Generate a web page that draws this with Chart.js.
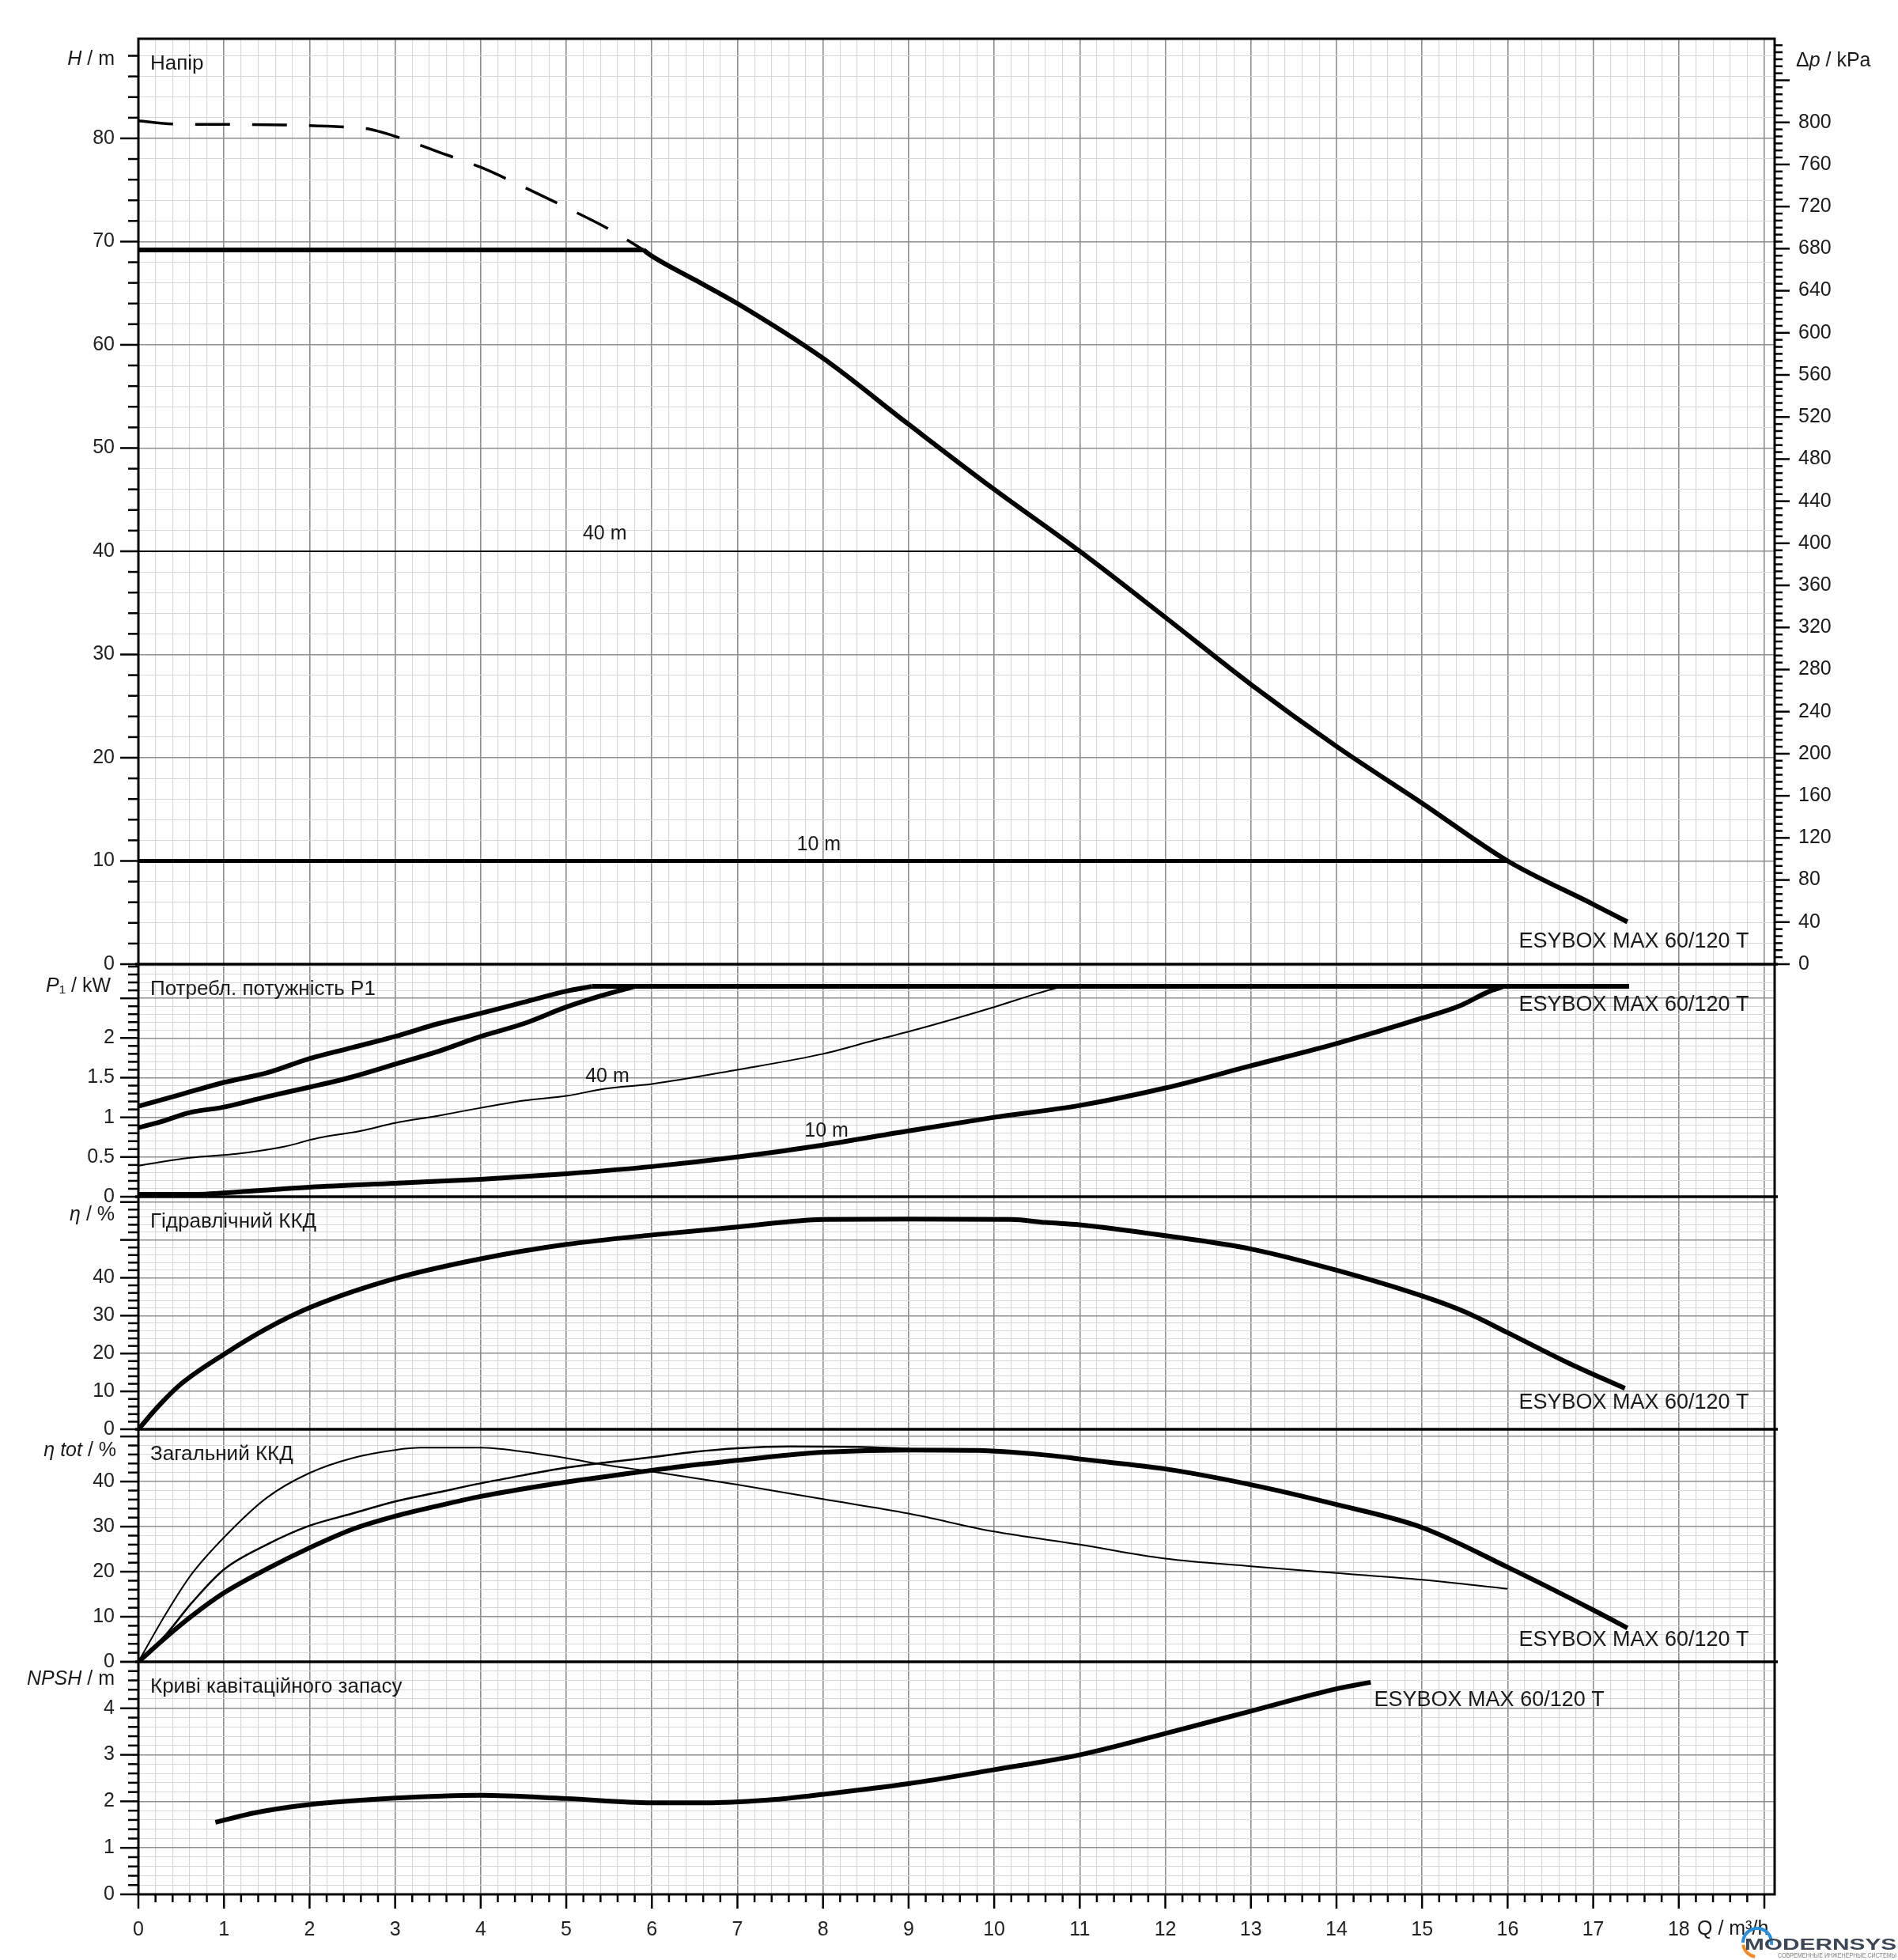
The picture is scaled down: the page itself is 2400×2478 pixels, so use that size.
<!DOCTYPE html>
<html>
<head>
<meta charset="utf-8">
<title>ESYBOX MAX 60/120 T</title>
<script src="https://cdn.jsdelivr.net/npm/chart.js@4.4.1/dist/chart.umd.min.js"></script>
<style>
  html, body { margin: 0; padding: 0; background: #fff; }
  #wrap { width: 2400px; height: 2478px; position: relative; }
</style>
</head>
<body>
<div id="wrap"><canvas id="pumpChart"></canvas></div>
<script>
const FONT = "'Liberation Sans', Arial, sans-serif";
const qMax = 19.12;
const kpaPerM = 9.81;

// tick labels
const qLabels = [0, 1, 2, 3, 4, 5, 6, 7, 8, 9, 10, 11, 12, 13, 14, 15, 16, 17, 18];
const hLabels = [0, 10, 20, 30, 40, 50, 60, 70, 80];
const kpaLabels = [0, 40, 80, 120, 160, 200, 240, 280, 320, 360, 400, 440, 480, 520, 560, 600, 640, 680, 720, 760, 800];
const pLabels = [0, 0.5, 1, 1.5, 2];
const etaLabels = [0, 10, 20, 30, 40];
const etaTotLabels = [0, 10, 20, 30, 40];
const npshLabels = [0, 1, 2, 3, 4];

// Напір, m
const headQ = [5.9, 6, 6.5, 7, 8, 9, 10, 11, 12, 13, 14, 15, 16, 17, 17.4];
const headH = [69.2, 68.6, 66.3, 64.0, 58.7, 52.3, 46.0, 40.0, 33.6, 27.1, 21.1, 15.6, 10.0, 5.8, 4.1];
const headCapQ = [0, 5.9];
const headCapH = [69.2, 69.2];
const headFullQ = [0, 0.4, 1, 1.7, 2.4, 2.7, 3.0, 3.5, 4.0, 4.5, 5.0, 5.5, 5.9];
const headFullH = [81.7, 81.4, 81.35, 81.3, 81.1, 80.9, 80.2, 78.7, 77.2, 75.3, 73.3, 71.2, 69.2];
const set40Q = [0, 11];
const set40H = [40, 40];
const set10Q = [0, 16];
const set10H = [10, 10];

// Потребл. потужність P1, kW
const powerFullQ = [0, 0.5, 1, 1.5, 2, 2.5, 3, 3.5, 4, 4.5, 5, 5.3];
const powerFull = [1.14, 1.29, 1.44, 1.56, 1.74, 1.88, 2.02, 2.18, 2.31, 2.45, 2.59, 2.65];
const powerCapQ = [0, 0.25, 0.6, 1, 1.5, 2, 2.5, 3, 3.5, 4, 4.5, 5, 5.4, 5.8];
const powerCap = [0.87, 0.94, 1.06, 1.13, 1.26, 1.38, 1.51, 1.67, 1.83, 2.02, 2.18, 2.39, 2.53, 2.65];
const power40Q = [0, 0.6, 1.15, 1.7, 2.1, 2.6, 3, 3.5, 4, 4.5, 5, 5.45, 6, 7, 8, 8.6, 9, 10, 10.5, 10.8];
const power40 = [0.39, 0.49, 0.54, 0.63, 0.74, 0.83, 0.93, 1.02, 1.12, 1.21, 1.27, 1.36, 1.42, 1.60, 1.80, 1.97, 2.08, 2.39, 2.56, 2.65];
const power10Q = [0, 0.65, 1.3, 2, 3, 4, 5, 6, 7, 8, 9, 10, 11, 12, 13, 14, 15, 15.45, 15.77, 15.95];
const power10 = [0.03, 0.03, 0.07, 0.12, 0.17, 0.22, 0.29, 0.38, 0.50, 0.65, 0.83, 1.0, 1.15, 1.37, 1.65, 1.93, 2.25, 2.41, 2.58, 2.65];
const powerLimitQ = [5.3, 17.42];
const powerLimit = [2.65, 2.65];

// Гідравлічний ККД, %
const etaQ = [0, 0.25, 0.5, 1, 1.5, 2, 3, 4, 5, 6, 7, 8, 9, 10.2, 10.6, 11, 12, 13, 14, 15, 15.5, 16, 16.7, 17.37];
const eta = [0, 6.5, 12.0, 19.8, 26.6, 32.1, 39.8, 45.0, 48.8, 51.3, 53.4, 55.4, 55.5, 55.4, 54.6, 54.0, 51.1, 47.6, 42.0, 35.2, 31.0, 25.5, 17.6, 10.8];

// Загальний ККД, %
const etaTotQ = [0, 0.32, 0.62, 1, 1.5, 2, 2.5, 3, 3.5, 4, 4.5, 5, 5.5, 6, 6.5, 7, 7.6, 8, 9, 9.8, 10.7, 11, 12, 13, 14, 15, 16, 17, 17.4];
const etaTot = [0, 5.4, 10.1, 15.3, 20.6, 25.3, 29.4, 32.3, 34.6, 36.7, 38.4, 39.9, 41.2, 42.5, 43.7, 44.7, 45.9, 46.5, 47.0, 46.9, 45.7, 45.0, 42.8, 39.3, 34.9, 29.8, 21.0, 11.5, 7.5];
const etaTot10Q = [0, 0.32, 0.62, 1, 1.5, 2, 2.5, 3, 3.3, 4, 4.5, 5, 5.45, 6, 7, 8, 9, 10, 11, 12, 13, 14, 15, 16];
const etaTot10 = [0, 10.6, 19.4, 27.6, 36.4, 41.9, 45.2, 47.0, 47.5, 47.5, 46.6, 45.2, 43.7, 42.2, 39.3, 36.1, 32.9, 28.9, 26.0, 22.9, 21.2, 19.7, 18.2, 16.2];
const etaTot40Q = [0, 0.32, 0.62, 1, 1.5, 2, 2.5, 3, 3.5, 4, 4.5, 5, 5.5, 6, 6.5, 7, 7.6, 8.4, 9.0];
const etaTot40 = [0, 6.0, 13.0, 20.5, 26.0, 30.2, 32.9, 35.6, 37.6, 39.6, 41.4, 43.1, 44.3, 45.4, 46.6, 47.4, 47.8, 47.7, 47.3];

// Криві кавітаційного запасу, m
const npshQ = [0.9, 1.38, 2, 3, 4, 5, 6, 6.7, 7.44, 8, 9, 10, 11, 12, 13, 14, 14.4];
const npsh = [1.55, 1.76, 1.93, 2.07, 2.13, 2.06, 1.97, 1.97, 2.04, 2.15, 2.38, 2.68, 3.0, 3.46, 3.94, 4.42, 4.56];

const MAJOR = '#8e8e8e';
const MINOR = '#d7d7d7';

function isMult(v, step) {
  const r = v / step;
  return Math.abs(r - Math.round(r)) < 1e-6;
}

function toXY(xs, ys) {
  return xs.map((x, i) => ({ x: x, y: ys[i] }));
}

function labelFrom(list) {
  return v => {
    const hit = list.find(l => Math.abs(l - v) < 1e-6);
    return hit === undefined ? '' : String(hit);
  };
}

function curve(xs, ys, axis, width, dash) {
  return {
    data: toXY(xs, ys),
    yAxisID: axis,
    borderColor: '#000',
    borderWidth: width,
    borderDash: dash || [],
    pointRadius: 0,
    fill: false,
    cubicInterpolationMode: 'monotone'
  };
}

function gridFor(step) {
  return {
    color: c => isMult(c.tick.value, step) ? MAJOR : MINOR,
    lineWidth: c => isMult(c.tick.value, step) ? 1.6 : 1.1,
    drawTicks: false
  };
}

function panelAxis(weight, stackWeight, max, step, major, labels) {
  return {
    type: 'linear',
    position: 'left',
    stack: 'panels',
    stackWeight: stackWeight,
    weight: weight,
    min: 0,
    max: max,
    grid: gridFor(major),
    border: { display: false },
    ticks: {
      stepSize: step,
      includeBounds: false,
      autoSkip: false,
      padding: 30,
      color: '#222',
      font: { family: FONT, size: 25 },
      callback: labelFrom(labels)
    },
    afterFit: s => { s.width = 175; }
  };
}

function font(italic, size) {
  return (italic ? 'italic ' : '') + size + 'px ' + FONT;
}

function richText(ctx, parts, x, y, align, size) {
  let w = 0;
  parts.forEach(p => { ctx.font = font(p[1], size); w += ctx.measureText(p[0]).width; });
  let cx = align === 'right' ? x - w : (align === 'center' ? x - w / 2 : x);
  ctx.textAlign = 'left';
  ctx.textBaseline = 'middle';
  parts.forEach(p => {
    ctx.font = font(p[1], size);
    ctx.fillText(p[0], cx, y);
    cx += ctx.measureText(p[0]).width;
  });
}

function seg(ctx, x1, y1, x2, y2) {
  ctx.beginPath();
  ctx.moveTo(x1, y1);
  ctx.lineTo(x2, y2);
  ctx.stroke();
}

const chartDecor = {
  id: 'chartDecor',
  afterDraw(chart) {
    const ctx = chart.ctx;
    const a = chart.chartArea;
    const s = chart.scales;
    ctx.save();
    ctx.strokeStyle = '#000';
    ctx.fillStyle = '#1a1a1a';

    // left tick marks
    ctx.lineWidth = 2.5;
    [['yH', 2, 10], ['yP', 0.1, 0.5], ['yE', 2, 10], ['yT', 2, 10], ['yN', 0.2, 1]].forEach(([id, minor, major]) => {
      const sc = s[id];
      for (let i = 0; i * minor <= sc.max + 1e-9; i++) {
        const v = i * minor;
        const y = sc.getPixelForValue(v);
        seg(ctx, a.left - (isMult(v, major) ? 23 : 13), y, a.left, y);
      }
    });

    // bottom tick marks
    for (let i = 0; i <= 95; i++) {
      const v = i * 0.2;
      const x = s.x.getPixelForValue(v);
      seg(ctx, x, a.bottom, x, a.bottom + (isMult(v, 1) ? 18 : 10));
    }

    // right axis: pressure in kPa on the head scale
    const kpaMax = s.yH.max * kpaPerM;
    for (let i = 0; i * 40 / 6 <= kpaMax; i++) {
      const y = s.yH.getPixelForValue(i * 40 / 6 / kpaPerM);
      seg(ctx, a.right, y, a.right + (i % 6 === 0 ? 19 : 10), y);
    }
    kpaLabels.forEach(k => {
      richText(ctx, [[String(k), false]], a.right + 30, s.yH.getPixelForValue(k / kpaPerM), 'left', 25);
    });

    // frame and panel separators
    ctx.lineWidth = 3;
    ctx.strokeRect(a.left, a.top, a.right - a.left, a.bottom - a.top);
    ctx.lineWidth = 3.5;
    ['yP', 'yE', 'yT', 'yN'].forEach(id => seg(ctx, a.left - 4, s[id].top, a.right + 4, s[id].top));

    // unit labels
    richText(ctx, [['H', true], [' / m', false]], 145, s.yH.top + 26, 'right', 25);
    richText(ctx, [['P', true], ['\u2081 / kW', false]], 140, s.yP.top + 28, 'right', 25);
    richText(ctx, [['\u03b7', true], [' / %', false]], 145, s.yE.top + 23, 'right', 25);
    richText(ctx, [['\u03b7 tot', true], [' / %', false]], 147, s.yT.top + 27, 'right', 25);
    richText(ctx, [['NPSH', true], [' / m', false]], 145, s.yN.top + 22, 'right', 25);
    richText(ctx, [['\u0394', false], ['p', true], [' / kPa', false]], 2271, s.yH.top + 28, 'left', 25);
    richText(ctx, [['Q / m\u00b3/h', false]], 2146, a.bottom + 44, 'left', 25);

    // panel titles
    const titles = [['yH', 'Напір'], ['yP', 'Потребл. потужність P1'], ['yE', 'Гідравлічний ККД'],
      ['yT', 'Загальний ККД'], ['yN', 'Криві кавітаційного запасу']];
    titles.forEach(([id, t]) => richText(ctx, [[t, false]], a.left + 15, s[id].top + 32, 'left', 26));

    // curve labels
    const px = q => s.x.getPixelForValue(q);
    richText(ctx, [['40 m', false]], px(5.45), s.yH.getPixelForValue(41.7), 'center', 25);
    richText(ctx, [['10 m', false]], px(7.95), s.yH.getPixelForValue(11.6), 'center', 25);
    richText(ctx, [['40 m', false]], px(5.48), s.yP.getPixelForValue(1.51), 'center', 25);
    richText(ctx, [['10 m', false]], px(8.04), s.yP.getPixelForValue(0.83), 'center', 25);
    const model = 'ESYBOX MAX 60/120 T';
    richText(ctx, [[model, false]], px(18.82), s.yH.getPixelForValue(2.2), 'right', 27);
    richText(ctx, [[model, false]], px(18.82), s.yP.getPixelForValue(2.42), 'right', 27);
    richText(ctx, [[model, false]], px(18.82), s.yE.getPixelForValue(7.0), 'right', 27);
    richText(ctx, [[model, false]], px(18.82), s.yT.getPixelForValue(4.8), 'right', 27);
    richText(ctx, [[model, false]], px(14.44), s.yN.getPixelForValue(4.17), 'left', 27);

    // logo
    const lx = 2222, ly = 2456;
    ctx.lineWidth = 4;
    ctx.strokeStyle = '#2b8fd8';
    ctx.beginPath();
    ctx.arc(lx, ly, 18, Math.PI * 1.0, Math.PI * 2.05);
    ctx.stroke();
    ctx.strokeStyle = '#f28a2e';
    ctx.beginPath();
    ctx.arc(lx, ly, 18, Math.PI * 0.55, Math.PI * 0.95);
    ctx.stroke();
    ctx.save();
    ctx.translate(2206, 2465);
    ctx.scale(1.42, 1);
    ctx.fillStyle = '#3d4654';
    ctx.font = 'bold 21px ' + FONT;
    ctx.textAlign = 'left';
    ctx.textBaseline = 'alphabetic';
    ctx.fillText('MODERNSYS', 0, 0);
    ctx.restore();
    ctx.fillStyle = '#808080';
    ctx.font = '9px ' + FONT;
    ctx.textAlign = 'left';
    ctx.textBaseline = 'alphabetic';
    ctx.fillText('СОВРЕМЕННЫЕ ИНЖЕНЕРНЫЕ СИСТЕМЫ', 2248, 2475, 150);

    ctx.restore();
  }
};

const datasets = [
  curve(headQ, headH, 'yH', 6),
  curve(headCapQ, headCapH, 'yH', 6),
  curve(headFullQ, headFullH, 'yH', 3.5, [44, 28]),
  curve(set40Q, set40H, 'yH', 2),
  curve(set10Q, set10H, 'yH', 5),
  curve(powerFullQ, powerFull, 'yP', 6),
  curve(powerCapQ, powerCap, 'yP', 6),
  curve(power40Q, power40, 'yP', 2),
  curve(power10Q, power10, 'yP', 6),
  curve(powerLimitQ, powerLimit, 'yP', 6),
  curve(etaQ, eta, 'yE', 6),
  curve(etaTotQ, etaTot, 'yT', 6),
  curve(etaTot10Q, etaTot10, 'yT', 2),
  curve(etaTot40Q, etaTot40, 'yT', 2.5),
  curve(npshQ, npsh, 'yN', 6)
];

new Chart(document.getElementById('pumpChart'), {
  type: 'line',
  data: { datasets: datasets },
  options: {
    responsive: true,
    maintainAspectRatio: false,
    devicePixelRatio: 1,
    animation: false,
    layout: { padding: { top: 49, left: 0, right: 156, bottom: 0 } },
    plugins: { legend: { display: false }, tooltip: { enabled: false } },
    scales: {
      x: {
        type: 'linear',
        position: 'bottom',
        min: 0,
        max: qMax,
        grid: gridFor(1),
        border: { display: false },
        ticks: {
          stepSize: 0.2,
          includeBounds: false,
          autoSkip: false,
          maxRotation: 0,
          padding: 30,
          color: '#222',
          font: { family: FONT, size: 25 },
          callback: labelFrom(qLabels)
        },
        afterFit: s => { s.height = 83; }
      },
      yH: panelAxis(5, 1170, 89.65, 2, 10, hLabels),
      yP: panelAxis(4, 294, 2.93, 0.1, 0.5, pLabels),
      yE: panelAxis(3, 294, 61.4, 2, 10, etaLabels),
      yT: panelAxis(2, 294, 51.6, 2, 10, etaTotLabels),
      yN: panelAxis(1, 294, 5, 0.2, 1, npshLabels)
    }
  },
  plugins: [chartDecor]
});
</script>
</body>
</html>
